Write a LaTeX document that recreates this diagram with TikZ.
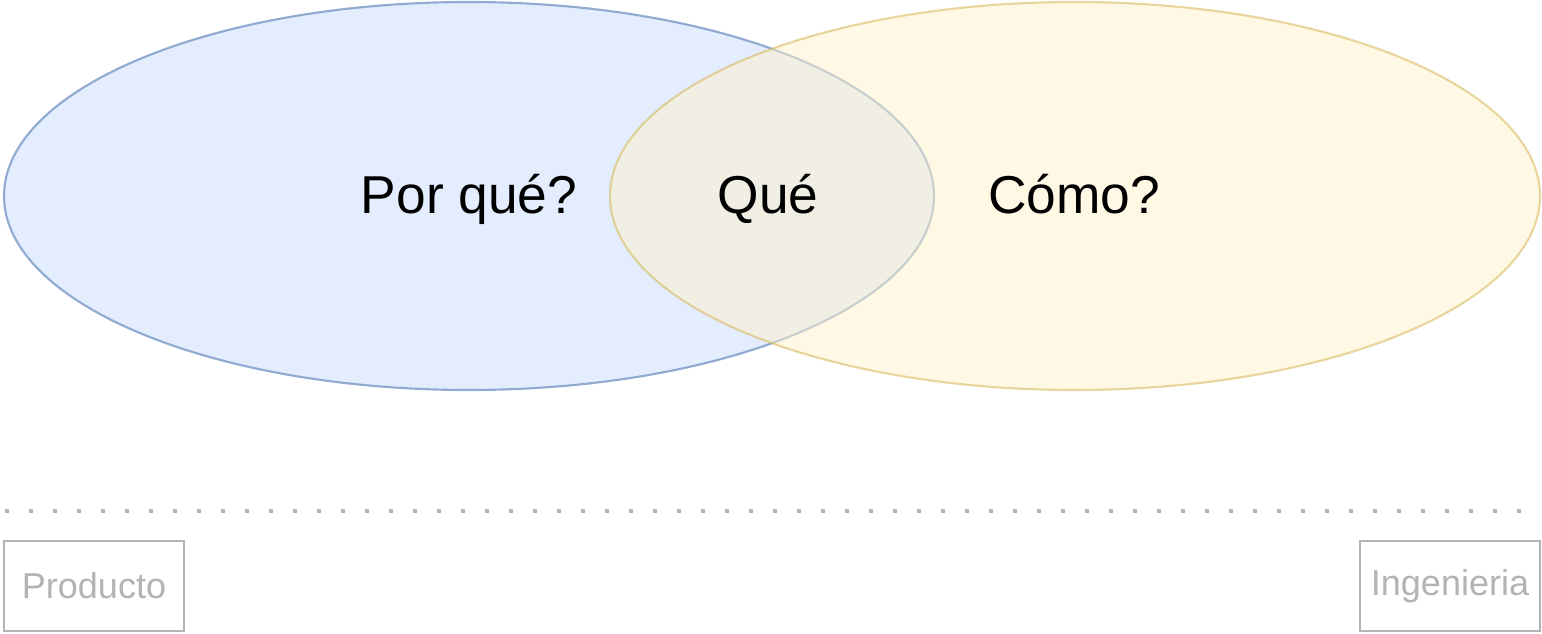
\documentclass[tikz,border=0pt]{standalone}
\usepackage{fontspec}
\setmainfont{Liberation Sans}
\usetikzlibrary{shapes.geometric}
\definecolor{bluefill}{HTML}{DAE8FC}
\definecolor{bluedraw}{HTML}{6C8EBF}
\definecolor{yelfill}{HTML}{FFF2CC}
\definecolor{yeldraw}{HTML}{D6B656}
\definecolor{greyc}{HTML}{B3B3B3}
\tikzset{
  venn/.style={ellipse, inner sep=0pt, minimum width=697.5pt, minimum height=291pt, line width=1.6pt},
  bigtext/.style={font=\fontsize{40pt}{48pt}\selectfont, anchor=base, inner sep=0pt},
  greybox/.style={draw=greyc, line width=1.6pt, minimum width=135pt, minimum height=67.5pt, inner sep=0pt, text=greyc, font=\fontsize{27pt}{32pt}\selectfont},
  dotline/.style={draw=greyc, line width=3.2pt, dash pattern=on 3.2pt off 14.8pt}
}
\begin{document}
\begin{tikzpicture}[x=0.75pt, y=-0.75pt]
\useasboundingbox (0,0) rectangle (1542,633);
\node[venn, fill=bluefill, draw=bluedraw, fill opacity=0.76, draw opacity=0.72] (why) at (469,196) {};
\node[venn, fill=yelfill, draw=yeldraw, fill opacity=0.5, draw opacity=0.55] (how) at (1075,196) {};
\node[bigtext] (twhy) at (469,213) {Por qué?};
\node[bigtext] (twhat) at (768,213) {Qué};
\node[bigtext] (thow) at (1074,213) {Cómo?};
\coordinate (l1) at (5,511);
\coordinate (l2) at (1524,511);
\draw[dotline] (l1) -- (l2);
\node[greybox] (prod) at (94,586) {Producto};
\node[greybox] (ing) at (1450,586) {Ingenieria};
\end{tikzpicture}
\end{document}
